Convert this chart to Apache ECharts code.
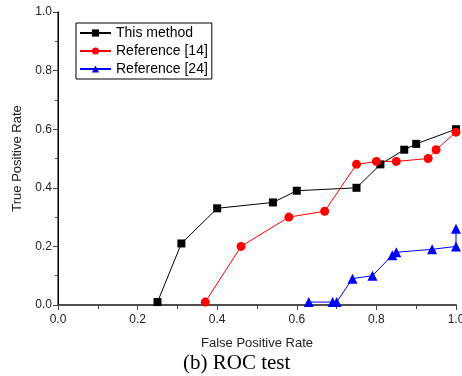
<!DOCTYPE html>
<html>
<head>
<meta charset="utf-8">
<script src="https://cdn.jsdelivr.net/npm/echarts@6/dist/echarts.min.js"></script>
<style>
  html, body { margin: 0; padding: 0; background: #fff; }
  #chart { width: 462px; height: 376px; }
</style>
</head>
<body>
<div id="chart"></div>
<script>
// values
const seriesNames = ["This method", "Reference [14]", "Reference [24]"];

const thisMethodFpr = [0.25, 0.31, 0.40, 0.54, 0.60, 0.75, 0.81, 0.87, 0.90, 1.00];
const thisMethodTpr = [0.01, 0.21, 0.33, 0.35, 0.39, 0.40, 0.48, 0.53, 0.55, 0.60];

const ref14Fpr = [0.37, 0.46, 0.58, 0.67, 0.75, 0.80, 0.85, 0.93, 0.95, 1.00];
const ref14Tpr = [0.01, 0.20, 0.30, 0.32, 0.48, 0.49, 0.49, 0.50, 0.53, 0.59];

const ref24Fpr = [0.63, 0.69, 0.70, 0.74, 0.79, 0.84, 0.85, 0.94, 1.00, 1.00];
const ref24Tpr = [0.01, 0.01, 0.01, 0.09, 0.10, 0.17, 0.18, 0.19, 0.20, 0.26];

const axisTicks = [0, 0.2, 0.4, 0.6, 0.8, 1.0];

function zip(xs, ys) {
  return xs.map((x, i) => [x, ys[i]]);
}

const chart = echarts.init(document.getElementById("chart"));
const axisColor = "#444";
const textColor = "#222";

const lineSeries = (name, data, color, symbol, size) => ({
  name: name,
  type: "line",
  data: data,
  symbol: symbol,
  symbolSize: size,
  showAllSymbol: true,
  clip: false,
  animation: false,
  lineStyle: { color: color, width: 1 },
  itemStyle: { color: color },
  emphasis: { disabled: true }
});

const baseAxis = {
  type: "value",
  min: axisTicks[0],
  max: axisTicks[axisTicks.length - 1],
  interval: 0.2,
  splitLine: { show: false },
  axisLine: { show: true, lineStyle: { color: axisColor, width: 1.5 } },
  axisTick: { show: true, length: 5, lineStyle: { color: axisColor, width: 1 } },
  minorTick: { show: true, splitNumber: 2, length: 3, lineStyle: { color: axisColor, width: 1 } },
  axisLabel: {
    color: textColor,
    fontFamily: "Liberation Sans",
    fontSize: 12,
    formatter: (v) => v.toFixed(1)
  }
};

chart.setOption({
  backgroundColor: "#fff",
  animation: false,
  grid: { left: 58, right: 6, top: 12, bottom: 71, outerBoundsMode: "none", containLabel: false },
  legend: {
    data: seriesNames,
    orient: "vertical",
    left: 76,
    top: 23,
    padding: [2, 4, 2, 3],
    itemGap: 2,
    itemWidth: 31,
    itemHeight: 9,
    borderColor: "#000",
    borderWidth: 1,
    textStyle: { fontFamily: "Liberation Sans", fontSize: 14, color: "#000", lineHeight: 16 }
  },
  xAxis: [
    Object.assign({}, baseAxis, {
      position: "bottom",
      name: "False Positive Rate",
      nameLocation: "middle",
      nameGap: 32,
      nameTextStyle: { fontFamily: "Liberation Sans", fontSize: 13, color: textColor },
      minorTick: { show: true, splitNumber: 2, length: 4, lineStyle: { color: axisColor, width: 1 } },
      axisLabel: Object.assign({}, baseAxis.axisLabel, { margin: 9 })
    }),
    Object.assign({}, baseAxis, {
      position: "top",
      axisLabel: { show: false },
      axisTick: { show: true, inside: true, length: 3, lineStyle: { color: axisColor } },
      minorTick: { show: true, splitNumber: 2, length: 3, lineStyle: { color: axisColor } }
    })
  ],
  yAxis: [
    Object.assign({}, baseAxis, {
      position: "left",
      name: "True Positive Rate",
      nameLocation: "middle",
      nameGap: 34,
      nameTextStyle: { fontFamily: "Liberation Sans", fontSize: 13, color: textColor },
      axisLabel: Object.assign({}, baseAxis.axisLabel, { margin: 6 })
    }),
    Object.assign({}, baseAxis, {
      position: "right",
      axisLine: { show: true, lineStyle: { color: "#000", width: 1 } },
      axisLabel: { show: false },
      axisTick: { show: true, inside: true, length: 4, lineStyle: { color: axisColor } },
      minorTick: { show: true, splitNumber: 2, inside: true, length: 3, lineStyle: { color: axisColor } }
    })
  ],
  series: [
    lineSeries(seriesNames[0], zip(thisMethodFpr, thisMethodTpr), "#000000", "rect", 8),
    lineSeries(seriesNames[1], zip(ref14Fpr, ref14Tpr), "#ff0000", "circle", 9),
    lineSeries(seriesNames[2], zip(ref24Fpr, ref24Tpr), "#0000ff", "triangle", 10)
  ],
  graphic: [
    {
      type: "text",
      left: 183,
      top: 353,
      style: {
        text: "(b) ROC test",
        font: '21px "Liberation Serif"',
        fill: "#000"
      }
    }
  ]
});
</script>
</body>
</html>
